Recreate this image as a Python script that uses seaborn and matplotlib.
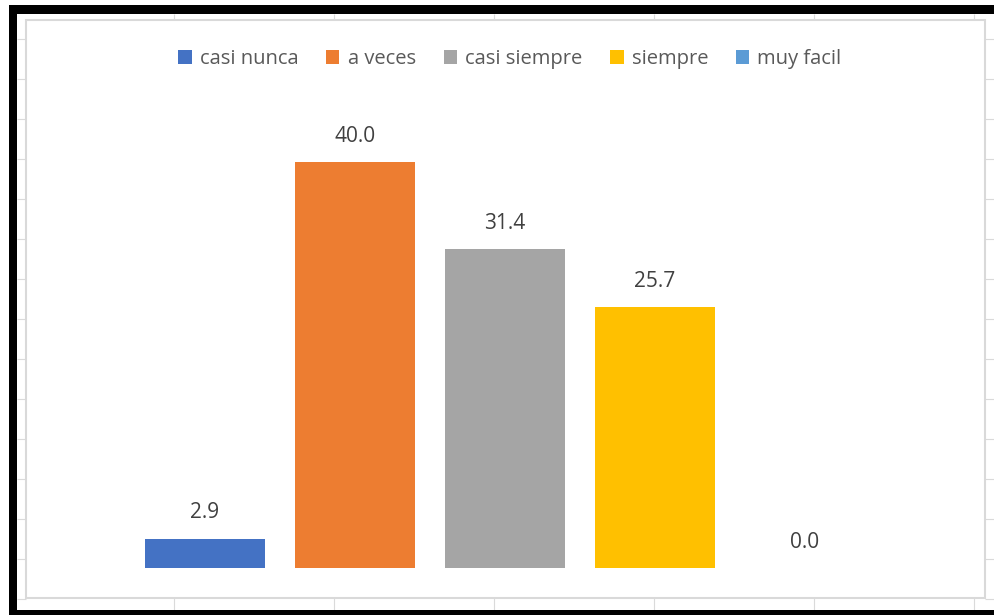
import matplotlib
matplotlib.use("Agg")
import matplotlib.pyplot as plt
from matplotlib.patches import Rectangle, Patch
from matplotlib.lines import Line2D
import seaborn as sns
import pandas as pd

# Survey answers (percent of respondents)
categories = ["casi nunca", "a veces", "casi siempre", "siempre", "muy facil"]
values = [2.9, 40.0, 31.4, 25.7, 0.0]
colors = ["#4472C4", "#ED7D31", "#A5A5A5", "#FFC000", "#5B9BD5"]

sns.set_theme(style="white")
plt.rcParams["font.family"] = ["Open Sans", "DejaVu Sans"]

W, H = 995, 615
fig = plt.figure(figsize=(W / 100, H / 100), dpi=100)
fig.patch.set_facecolor("white")


def fx(px):
    return px / W


def fy(py):
    return 1 - py / H


def frame_line(x0, y0, x1, y1, color="#dadada", lw=0.8):
    fig.add_artist(Line2D([fx(x0), fx(x1)], [fy(y0), fy(y1)],
                          transform=fig.transFigure, color=color, lw=lw,
                          solid_capstyle="butt", zorder=-3))


def frame_rect(x0, y0, x1, y1, z=-2, **kw):
    fig.add_artist(Rectangle((fx(x0), fy(y1)), fx(x1) - fx(x0), fy(y0) - fy(y1),
                             transform=fig.transFigure, zorder=z, **kw))


# worksheet cell grid behind the chart object
for gx in range(174, W, 160):
    frame_line(gx, 14, gx, 20)
    frame_line(gx, 598, gx, 610)
for gy in range(39, 600, 40):
    frame_line(17, gy, 26, gy)
    frame_line(985, gy, W, gy)

# chart object area with its light border
frame_rect(26, 20, 985, 598, facecolor="white", edgecolor="#d9d9d9", lw=1.5)

# dark window frame
frame_rect(9, 5, W, 14, z=-1, facecolor="black", edgecolor="none")
frame_rect(9, 5, 17, H, z=-1, facecolor="black", edgecolor="none")
frame_rect(9, 610, W, H, z=-1, facecolor="black", edgecolor="none")

# plot area: category i centred at x = 205 + 150 i px, value 0 at y = 568 px
ax = fig.add_axes([fx(55), fy(568), fx(955) - fx(55), (45 * 10.15) / H])
ax.set_zorder(2)
ax.patch.set_alpha(0)

df = pd.DataFrame({"categoria": categories, "porcentaje": values})
sns.barplot(data=df, x="categoria", y="porcentaje", hue="categoria",
            palette=dict(zip(categories, colors)), width=0.8, saturation=1,
            legend=False, ax=ax, linewidth=0)

for cont in ax.containers:
    ax.bar_label(cont, fmt="%.1f", padding=11, fontsize=15, color="#404040")

ax.set_xlim(-1, 5)
ax.set_ylim(0, 45)
ax.set_xlabel("")
ax.set_ylabel("")
ax.set_xticks([])
ax.set_yticks([])
for s in ax.spines.values():
    s.set_visible(False)

handles = [Patch(facecolor=c, edgecolor="none") for c in colors]
leg = fig.legend(handles, categories, loc="center", bbox_to_anchor=(fx(510), fy(59)),
                 ncol=5, frameon=False, fontsize=14.5, labelcolor="#595959",
                 handlelength=0.65, handleheight=0.75, handletextpad=0.4,
                 columnspacing=1.4, borderpad=0)
leg.set_zorder(3)

fig.savefig("out.png", dpi=100, facecolor="white")
